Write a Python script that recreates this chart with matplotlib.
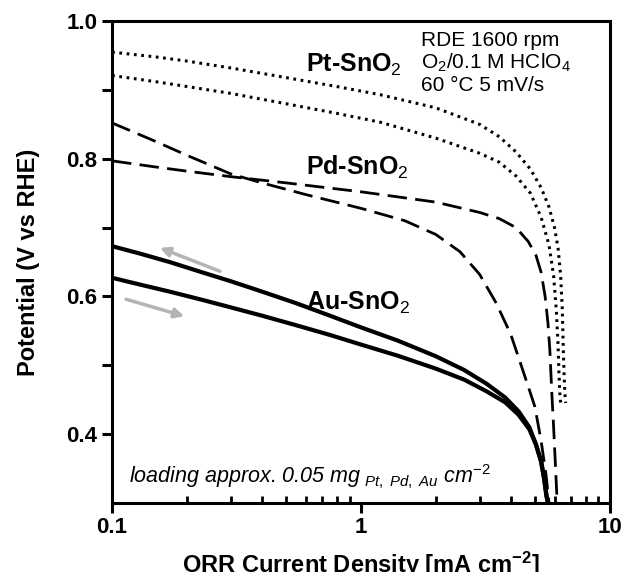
import matplotlib
matplotlib.use("Agg")
import matplotlib.pyplot as plt
import numpy as np
from matplotlib.ticker import FixedLocator, NullFormatter

plt.rcParams['font.family'] = ['Liberation Sans', 'DejaVu Sans']
plt.rcParams['mathtext.fontset'] = 'custom'
plt.rcParams['mathtext.rm'] = 'Liberation Sans'
plt.rcParams['mathtext.it'] = 'Liberation Sans:italic'
plt.rcParams['mathtext.bf'] = 'Liberation Sans:bold'

# Pt-SnO2 (dotted), two sweeps
pt_up_x = [0.1, 0.15, 0.2, 0.3, 0.5, 0.8, 1.2, 2.0, 3.0, 3.6, 4.2, 4.8, 5.3, 5.7, 6.0, 6.2, 6.35, 6.45, 6.5, 6.55, 6.6, 6.65]
pt_up_y = [0.955, 0.948, 0.942, 0.932, 0.918, 0.905, 0.893, 0.874, 0.85, 0.832, 0.81, 0.785, 0.758, 0.73, 0.70, 0.67, 0.63, 0.58, 0.53, 0.49, 0.46, 0.445]
pt_lo_x = [0.1, 0.15, 0.2, 0.3, 0.5, 0.8, 1.2, 2.0, 3.0, 3.6, 4.2, 4.8, 5.3, 5.7, 5.95, 6.1, 6.2, 6.25, 6.3, 6.35]
pt_lo_y = [0.921, 0.912, 0.905, 0.895, 0.880, 0.866, 0.853, 0.83, 0.808, 0.795, 0.775, 0.75, 0.715, 0.675, 0.63, 0.58, 0.53, 0.49, 0.46, 0.445]

# Pd-SnO2 (dashed), two sweeps
pd_a_x = [0.1, 0.12, 0.15, 0.2, 0.3, 0.4, 0.6, 1.0, 1.5, 2.0, 2.5, 3.0, 3.5, 4.0, 4.5, 5.0, 5.3, 5.55, 5.7]
pd_a_y = [0.852, 0.84, 0.825, 0.805, 0.778, 0.765, 0.748, 0.728, 0.71, 0.69, 0.665, 0.632, 0.59, 0.545, 0.49, 0.44, 0.39, 0.34, 0.30]
pd_b_x = [0.1, 0.15, 0.2, 0.3, 0.5, 1.0, 2.0, 3.0, 3.6, 4.2, 4.7, 5.05, 5.3, 5.5, 5.65, 5.75, 5.85, 5.95, 6.05, 6.15]
pd_b_y = [0.797, 0.788, 0.782, 0.774, 0.765, 0.752, 0.737, 0.722, 0.713, 0.70, 0.68, 0.66, 0.635, 0.60, 0.56, 0.52, 0.46, 0.41, 0.355, 0.30]

# Au-SnO2 (solid), two sweeps
au_x = [0.1, 0.13, 0.17, 0.23, 0.3, 0.4, 0.55, 0.75, 1.0, 1.4, 2.0, 2.6, 3.2, 3.8, 4.3, 4.75, 5.05, 5.3, 5.45, 5.57, 5.65]
au_up_y = [0.673, 0.662, 0.65, 0.635, 0.622, 0.607, 0.59, 0.572, 0.555, 0.536, 0.513, 0.493, 0.473, 0.453, 0.433, 0.41, 0.385, 0.36, 0.335, 0.31, 0.30]
au_lo_y = [0.627, 0.617, 0.607, 0.595, 0.584, 0.572, 0.558, 0.544, 0.53, 0.514, 0.495, 0.479, 0.462, 0.446, 0.428, 0.407, 0.385, 0.36, 0.335, 0.31, 0.30]

fig = plt.figure(figsize=(6.26, 5.72), dpi=100)
ax = fig.add_axes([0.179, 0.121, 0.795, 0.842])

ax.plot(pt_up_x, pt_up_y, color='black', lw=2.2, linestyle=(0, (0.9, 1.5)))
ax.plot(pt_lo_x, pt_lo_y, color='black', lw=2.2, linestyle=(0, (0.9, 1.5)))
ax.plot(pd_a_x, pd_a_y, color='black', lw=2.0, linestyle=(0, (7, 3)))
ax.plot(pd_b_x, pd_b_y, color='black', lw=2.0, linestyle=(0, (7, 3)))
ax.plot(au_x, au_up_y, color='black', lw=3.0)
ax.plot(au_x, au_lo_y, color='black', lw=3.0)

# sweep direction arrows
ax.annotate('', xy=(0.152, 0.672), xytext=(0.278, 0.635),
            arrowprops=dict(arrowstyle='-|>', color='#b4b4b4', lw=2.5, mutation_scale=14))
ax.annotate('', xy=(0.2, 0.570), xytext=(0.111, 0.597),
            arrowprops=dict(arrowstyle='-|>', color='#b4b4b4', lw=2.5, mutation_scale=14))

ax.set_xscale('log')
ax.set_xlim(0.1, 10)
ax.set_ylim(0.3, 1.0)

ax.xaxis.set_major_locator(FixedLocator([0.1, 1, 10]))
ax.set_xticklabels(['0.1', '1', '10'])
ax.xaxis.set_minor_locator(FixedLocator([m * d for d in (0.1, 1) for m in range(2, 10)]))
ax.xaxis.set_minor_formatter(NullFormatter())
ax.yaxis.set_major_locator(FixedLocator([0.4, 0.6, 0.8, 1.0]))
ax.set_yticklabels(['0.4', '0.6', '0.8', '1.0'])
ax.yaxis.set_minor_locator(FixedLocator([0.5, 0.7, 0.9]))

for s in ax.spines.values():
    s.set_linewidth(2.2)
ax.tick_params(axis='both', which='major', labelsize=16, width=2.2, length=7, direction='out')
ax.tick_params(axis='y', which='minor', width=2.2, length=7, direction='out')
ax.tick_params(axis='x', which='minor', width=2.0, length=5, direction='in')
for lab in ax.get_xticklabels() + ax.get_yticklabels():
    lab.set_fontweight('bold')

ax.set_xlabel(r'ORR Current Density [mA cm$^{\mathbf{-2}}$]', fontsize=17, fontweight='bold', labelpad=8)
ax.set_ylabel('Potential (V vs RHE)', fontsize=17, fontweight='bold', labelpad=19)

ax.text(0.6, 0.937, r'Pt-SnO$_2$', fontsize=18, fontweight='bold', va='center')
ax.text(0.6, 0.788, r'Pd-SnO$_2$', fontsize=18, fontweight='bold', va='center')
ax.text(0.6, 0.59, r'Au-SnO$_2$', fontsize=18, fontweight='bold', va='center')

ax.text(1.75, 0.972, 'RDE 1600 rpm', fontsize=15, va='center')
ax.text(1.75, 0.939, r'O$_2$/0.1 M HClO$_4$', fontsize=15, va='center')
ax.text(1.75, 0.906, '60 °C 5 mV/s', fontsize=15, va='center')

ax.text(0.035, 0.025, r'loading approx. 0.05 mg$_{\mathit{\ Pt,\ Pd,\ Au}}$ cm$^{\mathit{-2}}$',
        transform=ax.transAxes, fontsize=15.5, style='italic', va='bottom')

fig.savefig('out.png', dpi=100)
